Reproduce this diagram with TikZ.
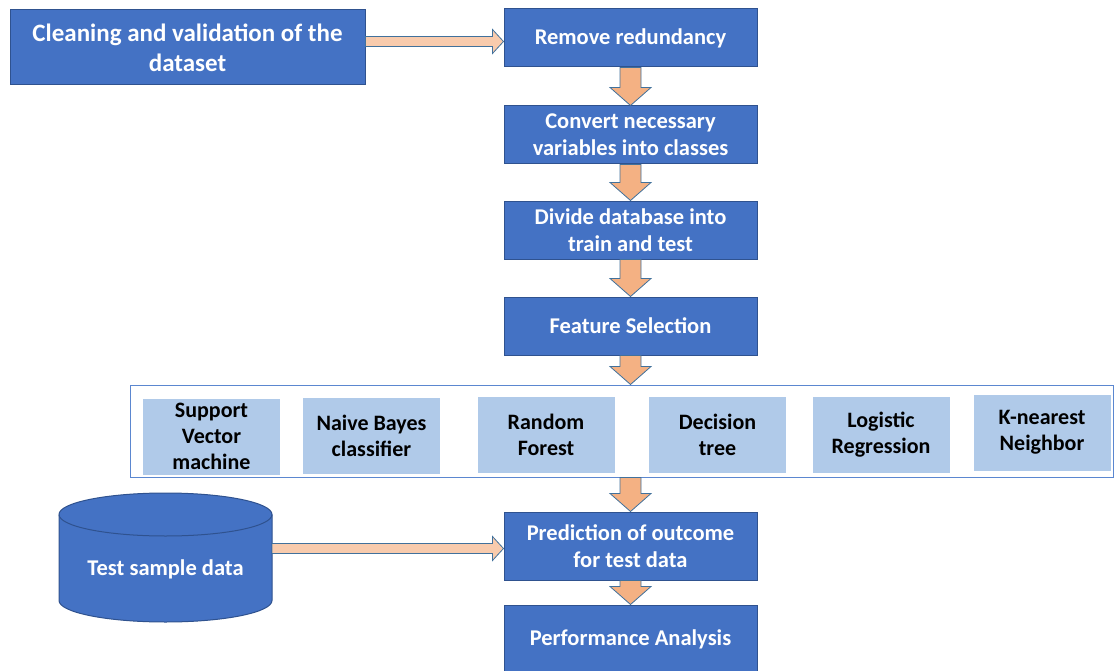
\documentclass[tikz,border=0pt]{standalone}
\usepackage{fontspec}
\setmainfont{Carlito}
\usetikzlibrary{calc}

\definecolor{StageFill}{HTML}{4472C4}
\definecolor{StageLine}{HTML}{2F528F}
\definecolor{ModelFill}{HTML}{B0CAE9}
\definecolor{StripLine}{HTML}{5B87D0}
\definecolor{DownArrow}{HTML}{F4B183}
\definecolor{SideArrow}{HTML}{F8CBAD}
\definecolor{ArrowLine}{HTML}{41719C}

\tikzset{
  stage/.style={draw=StageLine, line width=1pt, fill=StageFill, text=white,
    font=\bfseries\fontsize{22.5}{27}\selectfont, align=center,
    minimum width=253, minimum height=58, inner sep=0pt},
  model/.style={fill=ModelFill, text=black,
    font=\bfseries\fontsize{22}{26}\selectfont, align=center,
    minimum width=137, minimum height=76, inner sep=0pt},
  downarrow/.style={fill=DownArrow, draw=ArrowLine, line width=0.8pt},
  sidearrow/.style={fill=SideArrow, draw=ArrowLine, line width=0.8pt}
}

% block arrow going down from #1 to the tip #2
\newcommand{\flowdown}[2]{%
  \filldraw[downarrow] ($#1+(-10.5,0)$) -- ($#1+(10.5,0)$) -- ($#2+(10.5,-18)$)
    -- ($#2+(20.5,-18)$) -- #2 -- ($#2+(-20.5,-18)$) -- ($#2+(-10.5,-18)$) -- cycle;}

% block arrow going right from #1 to the tip #2
\newcommand{\flowright}[2]{%
  \filldraw[sidearrow] ($#1+(0,-5)$) -- ($#2+(-11,-5)$) -- ($#2+(-11,-12)$)
    -- #2 -- ($#2+(-11,12)$) -- ($#2+(-11,5)$) -- ($#1+(0,5)$) -- cycle;}

\begin{document}
\begin{tikzpicture}[x=1pt, y=-1pt]

 \useasboundingbox (0,0) rectangle (1115,671);

 %%%%%%%%%% Pipeline stages %%%%%%%%%%
 \node[stage, minimum width=355, minimum height=75, font=\bfseries\fontsize{25}{30}\selectfont]
   (clean) at (187.5,47.5) {Cleaning and validation of the\\dataset};
 \node[stage] (rem)  at (630.5,38)  {Remove redundancy};
 \node[stage] (conv) at (630.5,135) {Convert necessary\\variables into classes};
 \node[stage] (div)  at (630.5,230) {Divide database into\\train and test};
 \node[stage] (feat) at (630.5,326) {Feature Selection};
 \node[stage, minimum height=68] (pred) at (630.5,546) {Prediction of outcome\\for test data};
 \node[stage, minimum height=68] (perf) at (630.5,639) {Performance Analysis};

 %%%%%%%%%% Classifiers %%%%%%%%%%
 \node[draw=StripLine, line width=1pt, minimum width=983, minimum height=92, inner sep=0pt]
   (models) at (621.5,431) {};

 \foreach \nm/\cx/\cy/\txt in {svm/211.5/436.5/{Support\\Vector\\machine},
     nb/371.5/436/{Naive Bayes\\classifier}, rf/546/434.5/{Random\\Forest},
     dt/717.5/434.5/{Decision\\tree}, lr/881/434.5/{Logistic\\Regression},
     knn/1042/432.5/{K-nearest\\Neighbor}}
 {
   \node[model] (\nm) at (\cx,\cy) {\txt};
 }

 %%%%%%%%%% Test data %%%%%%%%%%
 \filldraw[draw=StageLine, line width=1pt, fill=StageFill]
   (59,514.5) -- (59,600.5) arc[start angle=180, end angle=0, x radius=106.5, y radius=21.5]
   -- (272,514.5) arc[start angle=0, end angle=-180, x radius=106.5, y radius=21.5] -- cycle;
 \draw[StageLine, line width=1pt] (59,514.5) arc[start angle=180, end angle=0, x radius=106.5, y radius=21.5];
 \node[text=white, font=\bfseries\fontsize{22.5}{27}\selectfont] (testdata) at (165.5,569) {Test sample data};
 \coordinate (canright) at (272,548.5);

 %%%%%%%%%% Arrows %%%%%%%%%%
 \flowright{(clean.east |- 0,41.5)}{([yshift=-3.5pt]rem.west)}
 \flowdown{(rem.south)}{(conv.north)}
 \flowdown{(conv.south)}{(div.north)}
 \flowdown{(div.south)}{(feat.north)}
 \flowdown{(feat.south)}{(feat.south |- models.north)}
 \flowdown{(feat.south |- models.south)}{(pred.north)}
 \flowright{(canright)}{([yshift=-2.5pt]pred.west)}
 \flowdown{(pred.south)}{(perf.north)}

\end{tikzpicture}
\end{document}
